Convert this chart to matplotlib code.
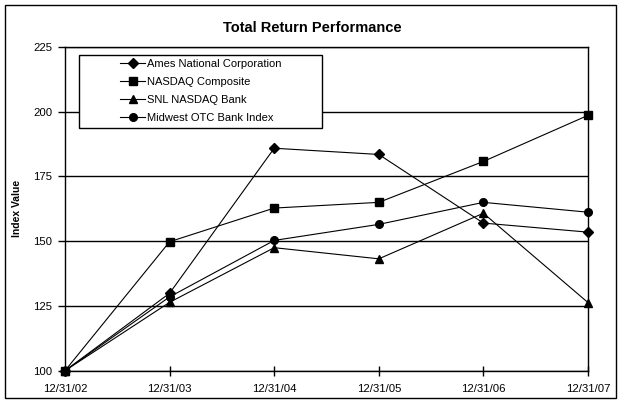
import matplotlib
matplotlib.use("Agg")
import matplotlib.pyplot as plt
from matplotlib.patches import Rectangle

plt.rcParams['font.family'] = ['Liberation Sans', 'DejaVu Sans']

dates = ['12/31/02', '12/31/03', '12/31/04', '12/31/05', '12/31/06', '12/31/07']
ames = [100, 129.9, 185.9, 183.5, 157.0, 153.5]
nasdaq = [100, 149.8, 162.8, 165.0, 180.8, 198.6]
snl = [100, 126.4, 147.5, 143.2, 160.8, 126.3]
midwest = [100, 128.5, 150.3, 156.5, 165.0, 161.2]

series = [
    ('Ames National Corporation', ames, 'D', 5),
    ('NASDAQ Composite', nasdaq, 's', 5.5),
    ('SNL NASDAQ Bank', snl, '^', 6),
    ('Midwest OTC Bank Index', midwest, 'o', 5.5),
]

fig = plt.figure(figsize=(6.25, 4.05), dpi=100)
ax = fig.add_axes([0.104, 0.0847, 0.8368, 0.7993])

x = list(range(len(dates)))
for name, vals, mk, ms in series:
    ax.plot(x, vals, color='black', linewidth=0.8, marker=mk, markersize=ms,
            label=name, clip_on=False, zorder=3)

ax.set_xlim(0, len(dates) - 1)
ax.set_ylim(100, 225)
ax.set_yticks([100, 125, 150, 175, 200, 225])
ax.set_xticks(x)
ax.set_xticklabels(dates)
ax.yaxis.grid(True, color='black', linewidth=1)
ax.set_axisbelow(True)
ax.tick_params(axis='x', direction='inout', length=7, width=1, labelsize=8.2, pad=6)
ax.tick_params(axis='y', direction='out', length=5, width=1, labelsize=8.2, pad=4)
for s in ax.spines.values():
    s.set_linewidth(1)
    s.set_color('black')

ax.set_ylabel('Index Value', fontsize=7.5, fontweight='bold', labelpad=8)
fig.text(0.5, 0.931, 'Total Return Performance', fontsize=10.5, fontweight='bold',
         ha='center', va='center')

# legend box (white, black edge) with the entries centred inside
box = (0.027, 0.75, 0.464, 0.226)
ax.add_patch(Rectangle(box[:2], box[2], box[3], transform=ax.transAxes,
                       facecolor='white', edgecolor='black', linewidth=1,
                       zorder=4, clip_on=False))
leg = ax.legend(loc='center', bbox_to_anchor=(box[0] + box[2] / 2, box[1] + box[3] / 2),
                fontsize=8, frameon=False, handlelength=2.3, borderpad=0,
                labelspacing=0.72, handletextpad=0.1, borderaxespad=0)
leg.set_zorder(5)

fig.patches.append(Rectangle((0.008, 0.017), 0.978, 0.97, transform=fig.transFigure,
                             fill=False, edgecolor='black', linewidth=1))

fig.savefig('out.png', dpi=100)
